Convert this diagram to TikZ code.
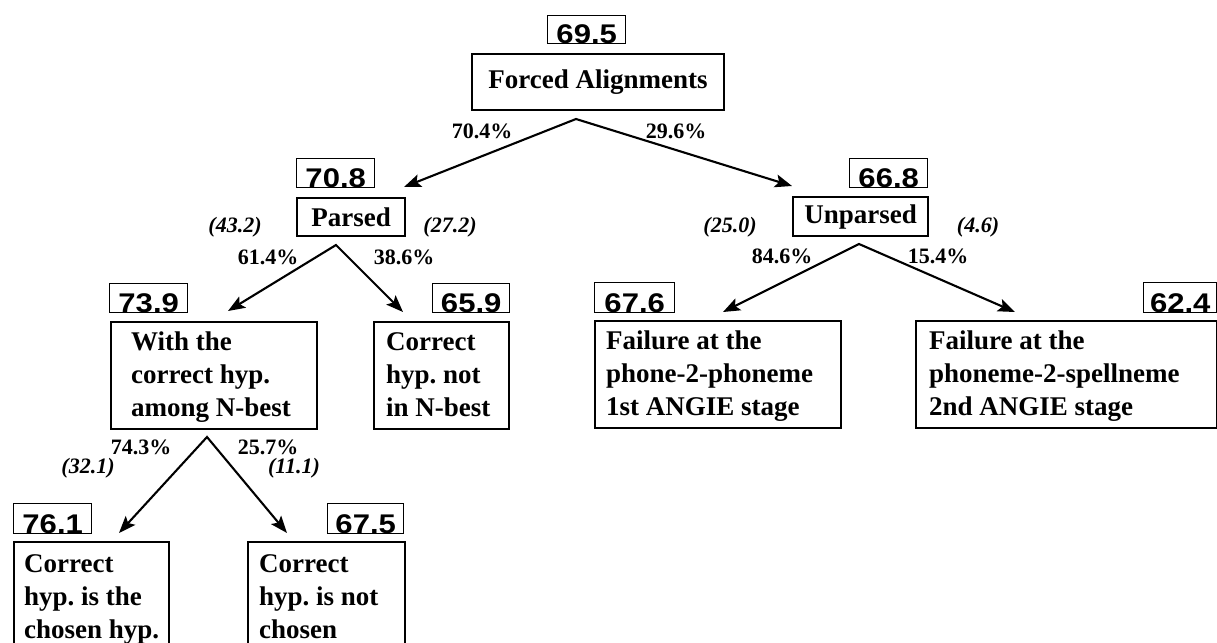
\documentclass[tikz,border=0pt]{standalone}
\usepackage{graphicx}
\usepackage{fontspec}
\setmainfont{Liberation Serif}
\newfontfamily\scorefont{Liberation Sans}
\usetikzlibrary{arrows.meta}
\frenchspacing

% fonts for the box texts, the branch shares and the counts
\newcommand{\boxfont}{\fontsize{27}{33}\selectfont\bfseries}
\newcommand{\pctfont}{\fontsize{22}{26}\selectfont\bfseries}
\newcommand{\cntfont}{\fontsize{22}{26}\selectfont\bfseries\itshape}
% left-aligned block of lines: total width, left padding, lines
\newcommand{\lines}[3]{\hspace*{#2}\parbox[t]{\dimexpr#1-#2\relax}{\raggedright #3}}
% wide bold digits of the scores
\newcommand{\sx}[1]{\scalebox{1.15}[1]{#1}}

\tikzset{
  labelbox/.style={draw, line width=2.2pt, anchor=north west, inner sep=0pt, font=\boxfont},
  onebox/.style={labelbox, align=center},
  multibox/.style={labelbox, text height=28pt, text depth=79pt},
  lowbox/.style={labelbox, text height=30pt, text depth=110pt},
  score/.style={draw, line width=1.4pt, anchor=north west, inner sep=0pt,
    text depth=0.5pt, font=\scorefont\bfseries\fontsize{27}{27}\selectfont},
  pct/.style={font=\pctfont, inner sep=0pt},
  cnt/.style={font=\cntfont, inner sep=0pt},
  fork/.style={line width=2.1pt, line join=miter,
    {Stealth[length=17pt,width=13pt,inset=3.5pt]}-{Stealth[length=17pt,width=13pt,inset=3.5pt]}},
}

\begin{document}
\begin{tikzpicture}[x=1pt, y=-1pt]
\clip (0,0) rectangle (1217,642);
\fill[white] (0,0) rectangle (1217,642);

% ---- root ----
\node[score, minimum width=78pt, text height=27.5pt] (s-fa) at (547,15) {\sx{69.5}};
\node[onebox, minimum width=252pt, minimum height=56pt] (fa) at (471,53) {Forced Alignments};

% ---- second level ----
\node[score, minimum width=78pt, text height=28.5pt] (s-parsed) at (296,158) {\sx{70.8}};
\node[onebox, minimum width=108pt, minimum height=38pt] (parsed) at (296,197) {Parsed};
\node[score, minimum width=78pt, text height=28.5pt] (s-unparsed) at (849,158) {\sx{66.8}};
\node[onebox, minimum width=135pt, minimum height=39pt] (unparsed) at (792,196) {Unparsed};

% ---- third level ----
\node[score, minimum width=78pt, text height=28.5pt] (s-nbest) at (109,283) {\sx{73.9}};
\node[multibox] (nbest) at (110,321) {\lines{206pt}{20pt}{With the\\correct hyp.\\among N-best}};
\node[score, minimum width=77pt, text height=28.5pt] (s-notin) at (432,283) {\sx{65.9}};
\node[multibox] (notin) at (373,321) {\lines{135pt}{12pt}{Correct\\hyp. not\\in N-best}};
\node[score, minimum width=80pt, text height=29.5pt] (s-stage1) at (594,282) {\sx{67.6}};
\node[multibox] (stage1) at (594,320) {\lines{246pt}{11pt}{Failure at the\\phone-2-phoneme\\1st ANGIE stage}};
\node[score, minimum width=73pt, text height=29.5pt] (s-stage2) at (1143,282) {\sx{62.4}};
\node[multibox] (stage2) at (915,320) {\lines{301pt}{13pt}{Failure at the\\phoneme-2-spellneme\\2nd ANGIE stage}};

% ---- fourth level ----
\node[score, minimum width=78pt, text height=29.5pt] (s-chosen) at (13,503) {\sx{76.1}};
\node[lowbox] (chosen) at (13,541) {\lines{155pt}{10pt}{Correct\\hyp. is the\\chosen hyp.}};
\node[score, minimum width=76pt, text height=29.5pt] (s-notchosen) at (327,503) {\sx{67.5}};
\node[lowbox] (notchosen) at (247,541) {\lines{157pt}{11pt}{Correct\\hyp. is not\\chosen}};

% ---- branch points and arrow ends ----
\coordinate (fa-fork) at (576,119);
\coordinate (to-parsed) at (404,187);
\coordinate (to-unparsed) at (792,186);
\coordinate (parsed-fork) at (336,245);
\coordinate (to-nbest) at (228,311);
\coordinate (to-notin) at (403,312);
\coordinate (unparsed-fork) at (859,244);
\coordinate (to-stage1) at (723,312);
\coordinate (to-stage2) at (1015,312);
\coordinate (nbest-fork) at (207,437);
\coordinate (to-chosen) at (119,533);
\coordinate (to-notchosen) at (287,533);

\draw[fork] (to-parsed) -- (fa-fork) -- (to-unparsed);
\draw[fork] (to-nbest) -- (parsed-fork) -- (to-notin);
\draw[fork] (to-stage1) -- (unparsed-fork) -- (to-stage2);
\draw[fork] (to-chosen) -- (nbest-fork) -- (to-notchosen);

% ---- branch shares and counts ----
\node[pct] (p-parsed) at (482,131) {70.4\%};
\node[pct] (p-unparsed) at (676,131) {29.6\%};

\node[cnt] (c-nbest) at (235,227) {(43.2)};
\node[cnt] (c-notin) at (450,227) {(27.2)};
\node[pct] (p-nbest) at (268,257) {61.4\%};
\node[pct] (p-notin) at (404,257) {38.6\%};

\node[cnt] (c-stage1) at (730,227) {(25.0)};
\node[cnt] (c-stage2) at (978,227) {(4.6)};
\node[pct] (p-stage1) at (782,256) {84.6\%};
\node[pct] (p-stage2) at (938,256) {15.4\%};

\node[pct] (p-chosen) at (141,447) {74.3\%};
\node[cnt] (c-chosen) at (88,468) {(32.1)};
\node[pct] (p-notchosen) at (268,447) {25.7\%};
\node[cnt] (c-notchosen) at (294,468) {(11.1)};
\end{tikzpicture}
\end{document}
